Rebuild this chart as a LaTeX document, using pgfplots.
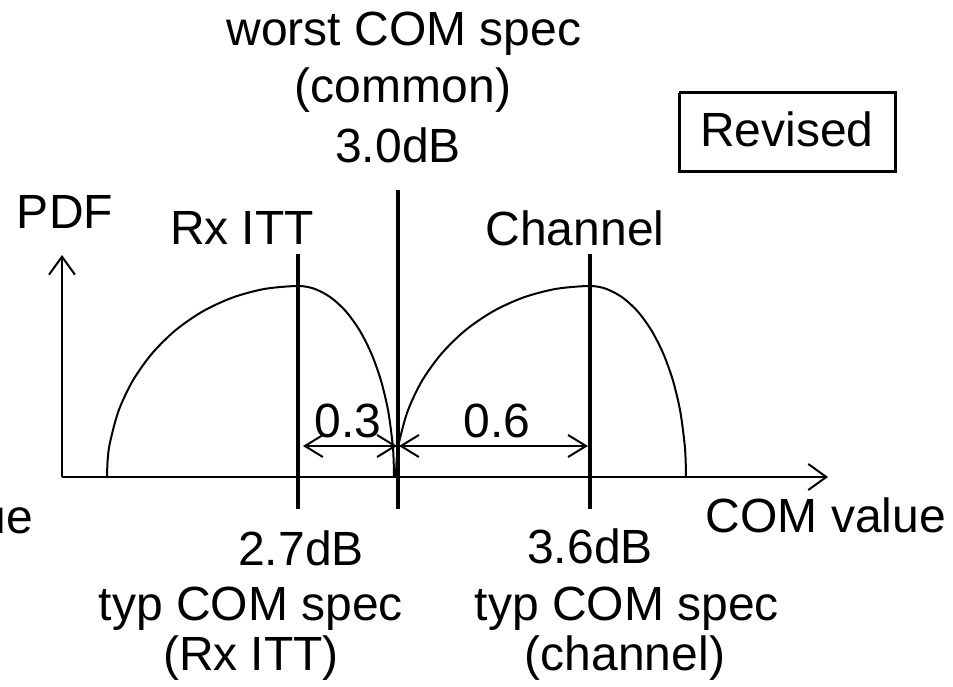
\documentclass[border=0pt]{standalone}
\usepackage{fontspec}
\setmainfont{Liberation Sans}
\usepackage{pgfplots}
\pgfplotsset{compat=1.18}
\usetikzlibrary{arrows.meta}
\begin{document}
\begin{tikzpicture}
\path[use as bounding box] (0,0) rectangle (953pt,687pt);
\clip (0,0) rectangle (953pt,687pt);
\begin{axis}[
  at={(0,0)}, anchor=south west,
  scale only axis, width=953pt, height=687pt,
  xmin=0, xmax=953, ymin=0, ymax=687,
  y dir=reverse, hide axis, clip=false,
  every axis plot/.append style={no markers, black},
  nodes={font=\fontsize{48pt}{58pt}\selectfont, inner sep=0pt},
]
% axes
\addplot[line width=2pt, -{Straight Barb[length=18pt,width=26pt]}] coordinates {(62,477) (828,477)};
\addplot[line width=2pt, -{Straight Barb[length=18pt,width=26pt]}] coordinates {(62,477) (62,255)};
% Rx ITT PDF
\addplot[line width=2pt, smooth] coordinates {
(107,476) (107.7,459.4) (109.9,443) (118.5,411) (132.6,381) (151.7,353.9) (175.2,330.5) (202.5,311.5) (232.7,297.5) (264.8,288.9) (298,286)
(314.7,288.9) (330.8,297.5) (346,311.5) (359.7,330.5) (371.5,353.9) (381.1,381) (388.2,411) (392.5,443) (393.6,459.4) (394,476)};
% Channel PDF
\addplot[line width=2pt, smooth] coordinates {
(396,476) (396.7,459.4) (398.9,443) (407.7,411) (421.9,381) (441.3,353.9) (465.1,330.5) (492.75,311.5) (523.3,297.5) (555.9,288.9) (589.5,286)
(606.3,288.9) (622.5,297.5) (637.75,311.5) (651.5,330.5) (663.4,353.9) (673.1,381) (680.2,411) (684.5,443) (685.6,459.4) (686,476)};
% spec lines
\addplot[line width=4pt] coordinates {(298,254) (298,509)};
\addplot[line width=4pt] coordinates {(398,190) (398,509)};
\addplot[line width=4pt] coordinates {(589.5,254) (589.5,509)};
% dimension arrows
\addplot[line width=2pt, {Straight Barb[length=18pt,width=22pt]}-{Straight Barb[length=18pt,width=22pt]}] coordinates {(303,446) (397,446)};
\addplot[line width=2pt, {Straight Barb[length=18pt,width=22pt]}-{Straight Barb[length=18pt,width=22pt]}] coordinates {(399,446) (588,446)};
% Revised box
\addplot[line width=3pt] coordinates {(679,93) (895,93) (895,172) (679,172) (679,93)};
% texts
\node[anchor=base] at (axis cs:404,46) {worst COM spec};
\node[anchor=base] at (axis cs:403,103) {(common)};
\node[anchor=base] at (axis cs:398,163) {3.0dB};
\node[anchor=base] at (axis cs:787,147) {Revised};
\node[anchor=base] at (axis cs:65,229) {PDF};
\node[anchor=base] at (axis cs:242,244) {Rx ITT};
\node[anchor=base] at (axis cs:575,245) {Channel};
\node[anchor=base] at (axis cs:348,437) {0.3};
\node[anchor=base] at (axis cs:497,437) {0.6};
\node[anchor=base] at (axis cs:826,532) {COM value};
\node[anchor=base east] at (axis cs:33,533) {COM value};
\node[anchor=base] at (axis cs:301,565) {2.7dB};
\node[anchor=base] at (axis cs:251,620) {typ COM spec};
\node[anchor=base] at (axis cs:251,670) {(Rx ITT)};
\node[anchor=base] at (axis cs:590,563) {3.6dB};
\node[anchor=base] at (axis cs:627,620) {typ COM spec};
\node[anchor=base] at (axis cs:625,670) {(channel)};
\end{axis}
\end{tikzpicture}
\end{document}
